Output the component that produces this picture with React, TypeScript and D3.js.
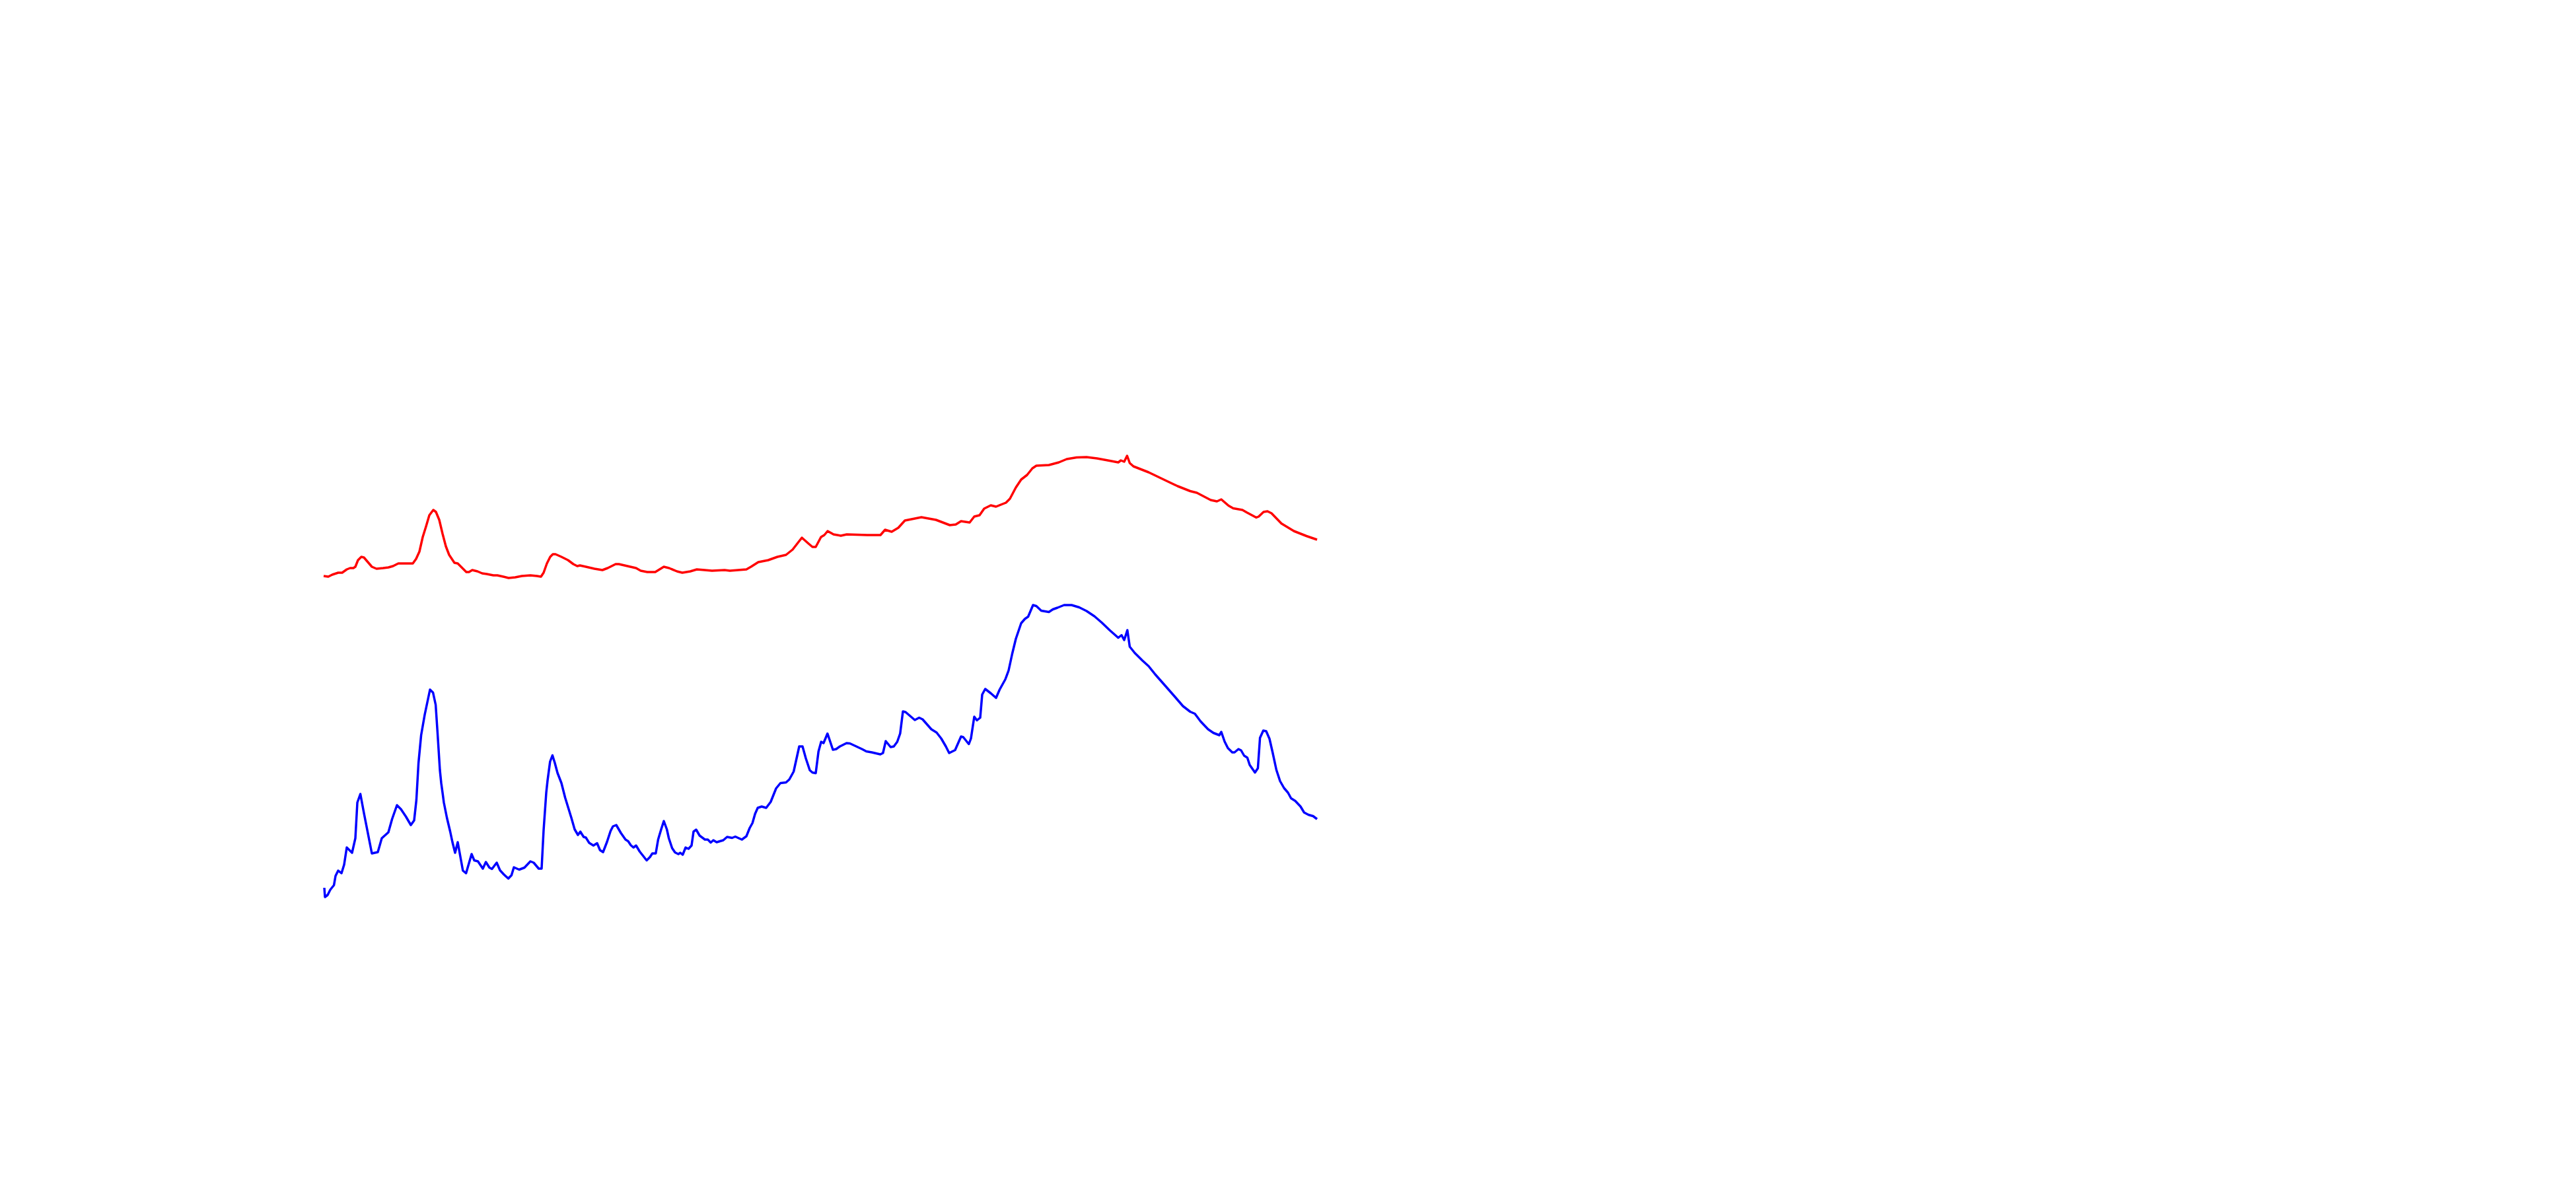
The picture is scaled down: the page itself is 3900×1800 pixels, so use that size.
import React from "react";
import * as d3 from "d3";

// Series A (red) — x positions and values (arbitrary units)
const redX = [0, 1.75, 3.25, 5.5, 7, 8.75, 10, 11.25, 12, 13, 14.25, 15.25, 16.75, 18.25, 20, 22.5, 24.5, 26.25, 28.25, 31.75, 33.75, 35, 36.25, 37.5, 38.75, 40, 41.5, 42.5, 43.75, 45, 46.25, 47.5, 49.5, 50.75, 52.5, 54, 55, 56.25, 58.25, 60, 61.75, 64.25, 65.75, 68, 70, 72.5, 75, 78.25, 80.75, 82.25, 83.25, 84.5, 85.75, 86.75, 87.75, 90, 92.5, 94.5, 96, 97, 99.25, 102.5, 105.5, 107.5, 110.5, 111.75, 115, 118.25, 120, 122.5, 125.5, 128.75, 130.75, 133.75, 135.75, 138.75, 141.25, 144.25, 147, 151.75, 153.75, 160, 161.75, 164.5, 168.25, 171.75, 175, 177.5, 179.25, 181, 183.25, 185, 186.25, 188.25, 189.5, 190.75, 193, 195.75, 198, 205.75, 210.75, 212.5, 215, 217.5, 220, 222.5, 226.25, 231.75, 237, 239.25, 241.25, 244.5, 246.25, 248.25, 250, 252.5, 254.5, 258.25, 259.75, 262, 264, 266.25, 268.25, 269.75, 274.5, 278.25, 281.25, 285, 288.75, 292.75, 297.5, 300.75, 301.75, 303, 304.1, 305.1, 306.5, 312.25, 318.5, 323.25, 328, 330.5, 335.75, 338.1, 339.75, 342.5, 344.25, 347.75, 349.5, 353, 353.9, 355.75, 357.25, 358.75, 362.5, 367.25, 372, 376];
const redY = [105.6, 105.4, 106, 106.6, 106.6, 107.6, 108, 108, 108.4, 110.4, 111.4, 111.2, 109.8, 108.4, 107.8, 108, 108.2, 108.6, 109.4, 109.4, 109.4, 110.8, 113, 117.4, 120.6, 124, 125.6, 125, 122.6, 118.4, 114.6, 112, 109.6, 109.4, 108, 106.8, 106.8, 107.4, 107, 106.4, 106.2, 105.8, 105.8, 105.4, 105, 105.2, 105.6, 105.8, 105.6, 105.4, 106.6, 109.4, 111.4, 112.2, 112.2, 111.4, 110.4, 109.2, 108.6, 108.8, 108.4, 107.8, 107.4, 108, 109.2, 109.2, 108.6, 108, 107.2, 106.8, 106.8, 108.4, 108, 107, 106.6, 107, 107.6, 107.4, 107.2, 107.4, 107.2, 107.6, 108.4, 109.8, 110.4, 111.4, 112, 113.6, 115.4, 117.2, 115.6, 114.4, 114.4, 117.4, 118, 119.2, 118.2, 117.8, 118.2, 118, 118, 119.6, 119, 120.2, 122.4, 122.8, 123.4, 122.6, 121, 121.2, 122.2, 121.8, 123.6, 124, 126, 127, 126.6, 127.8, 129, 132.4, 134.8, 136.2, 138.2, 139, 139.2, 140, 141, 141.5, 141.6, 141.2, 140.5, 140, 140.6, 140.2, 142, 139.8, 138.8, 137, 134.6, 132.8, 131.3, 130.8, 128.6, 128.2, 128.8, 126.9, 126.1, 125.6, 124.8, 123.3, 123.6, 125, 125.2, 124.6, 121.5, 119.2, 117.7, 116.6];

// Series B (blue) — x positions and values (arbitrary units)
const blueX = [0.25, 0.5, 1.5, 2.5, 3.9, 4.5, 5.5, 6.75, 7.75, 8.75, 10.75, 12, 12.75, 13.9, 15.25, 18.25, 20.5, 22, 24.5, 25.9, 27.75, 29.25, 31.1, 33, 34.25, 35.1, 35.9, 36.9, 38.25, 39.25, 40.25, 41.4, 42.4, 43.1, 44, 44.5, 45, 45.5, 46.65, 47.9, 48.75, 49.75, 50.75, 52.7, 53.9, 56, 57, 58.4, 60.25, 61.4, 62.75, 63.7, 65.5, 66.75, 68.25, 69.9, 71.1, 72, 74, 76, 78.25, 79.5, 81.4, 82.5, 83.25, 84.25, 84.75, 85.7, 86.6, 87.5, 88.5, 90, 91.4, 93.75, 95, 96.25, 97.15, 98.4, 99.25, 100.5, 102.1, 103.5, 104.6, 105.75, 107.25, 108.6, 109.5, 110.75, 112.5, 114.25, 115.25, 116.25, 117.25, 118.25, 119.6, 122.25, 123.5, 124.4, 125.7, 126.6, 127.75, 128.75, 129.9, 130.65, 131.9, 133, 134.25, 135, 135.9, 137, 138.1, 139.25, 140, 141, 142.3, 144.3, 145.4, 146.5, 147.5, 148.75, 151.25, 152.7, 154.6, 155.8, 158.3, 160, 161.25, 162.3, 163.3, 164.3, 165.8, 167.5, 169.2, 171.25, 172.9, 175, 176.25, 177.9, 180, 181.25, 182.5, 184, 185, 186.25, 187.3, 188.3, 189.2, 190.7, 192.75, 194, 195.4, 197.9, 199.2, 203.75, 205.4, 207.5, 210.7, 211.7, 212.75, 214.6, 215.8, 217.1, 218.2, 219.25, 220.25, 223.75, 225.4, 226.7, 230, 232, 233.75, 235.5, 236.75, 239, 241.25, 242.1, 244.2, 245, 246.25, 247.25, 248.5, 249.25, 250.4, 252.5, 254.5, 255.85, 258, 259.25, 260.6, 262, 264, 265.4, 266.65, 268.5, 269.75, 271.6, 274.5, 276, 277.75, 280.25, 283.1, 286, 288.75, 291.75, 294.5, 297.5, 300.75, 302, 303, 304.2, 305.1, 307, 309.9, 312.25, 314.75, 318.5, 321.9, 325.25, 328, 329.75, 331.9, 334.75, 336.75, 339, 339.75, 341, 342.25, 343.9, 344.75, 346.25, 347.25, 348.4, 349.6, 350.5, 352.5, 353.6, 354.4, 355.65, 356.75, 358, 359.2, 360.6, 362, 363.5, 365, 366.15, 367.75, 369.75, 371.1, 372.75, 374.5, 376];
const blueY = [11.2, 8.4, 9, 10.6, 12, 14.8, 16.4, 15.6, 18.2, 23.4, 21.8, 26.2, 37, 39.6, 33.8, 21.6, 22, 26.2, 28, 32, 36.2, 35, 32.8, 30.2, 31.6, 37.8, 49, 57.4, 63.6, 67.4, 71.2, 70.3, 66.6, 58.2, 46.8, 42.9, 40, 37, 32.4, 28.2, 25, 21.8, 25, 16.4, 15.6, 21.4, 19.5, 19.2, 17, 19, 17.3, 16.9, 18.8, 16.5, 15.2, 14, 15, 17.4, 16.7, 17.3, 19.2, 18.8, 17, 17, 28.6, 40, 43.7, 49.4, 51.3, 49, 46, 42.9, 38.5, 32.4, 28.9, 27.2, 28.2, 26.6, 26.4, 24.8, 24, 24.7, 22.6, 22, 25.1, 28.4, 29.8, 30.2, 27.8, 25.8, 25.3, 24.1, 23.4, 24, 22.2, 19.5, 20.5, 21.6, 21.6, 25.8, 28.9, 31.4, 28.9, 26.2, 23.2, 21.9, 21.4, 21.8, 21.2, 23.4, 23, 24, 28.2, 28.8, 27, 25.8, 25.8, 24.9, 25.6, 25, 25.6, 26.6, 26.3, 26.7, 25.8, 26.8, 29.3, 30.8, 33.6, 35.4, 35.8, 35.4, 37.2, 41.3, 42.9, 43.1, 44, 46.4, 54, 54, 50.4, 46.8, 46.1, 45.9, 52.5, 55.4, 55, 57.9, 53, 53.2, 54, 55, 54.9, 53.2, 52.5, 52.2, 51.6, 52, 55.6, 53.8, 54, 55.4, 57.9, 64.6, 64.4, 62, 62.7, 62.2, 59.2, 58.2, 56.4, 54, 52, 52.9, 57, 56.8, 54.7, 56.4, 63, 61.9, 62.7, 69.7, 71.4, 70.1, 68.7, 71.2, 74.3, 77, 82, 86.6, 91.3, 92.6, 93.3, 96.8, 96.5, 95.1, 94.7, 95.5, 96, 96.8, 96.8, 96.1, 95, 93.4, 91.5, 89.2, 86.9, 87.7, 86.2, 89.2, 84.2, 82.3, 80, 78.3, 75.8, 72.4, 69.3, 66.2, 64.5, 63.9, 61.6, 59.2, 58.1, 57.4, 58.4, 55.5, 53.5, 52.2, 52.2, 53.2, 52.8, 51.2, 50.6, 48.4, 46.1, 47.4, 56.6, 58.8, 58.6, 56.3, 52.1, 46.9, 43.5, 41.4, 40, 38.3, 37.5, 35.8, 34, 33.3, 32.9, 32];

const xDomain: [number, number] = [0, 376];
const yDomain: [number, number] = [0, 150];

const W = 3900;
const H = 1800;
const plot = { left: 490, right: 1994, top: 650, bottom: 1400 };

export default function App() {
  const x = d3.scaleLinear().domain(xDomain).range([plot.left, plot.right]);
  const y = d3.scaleLinear().domain(yDomain).range([plot.bottom, plot.top]);
  const line = d3
    .line<[number, number]>()
    .x((d) => x(d[0]))
    .y((d) => y(d[1]));

  const red: [number, number][] = redX.map((v, i) => [v, redY[i]]);
  const blue: [number, number][] = blueX.map((v, i) => [v, blueY[i]]);

  return (
    <svg
      width={W}
      height={H}
      viewBox={`0 0 ${W} ${H}`}
      style={{ position: "absolute", left: 0, top: 0, background: "#ffffff" }}
    >
      <rect x={0} y={0} width={W} height={H} fill="#ffffff" />
      <path d={line(red) ?? ""} fill="none" stroke="#ff0000" strokeWidth={3.5} strokeLinejoin="round" strokeLinecap="butt" />
      <path d={line(blue) ?? ""} fill="none" stroke="#0000ff" strokeWidth={3.5} strokeLinejoin="round" strokeLinecap="butt" />
    </svg>
  );
}
